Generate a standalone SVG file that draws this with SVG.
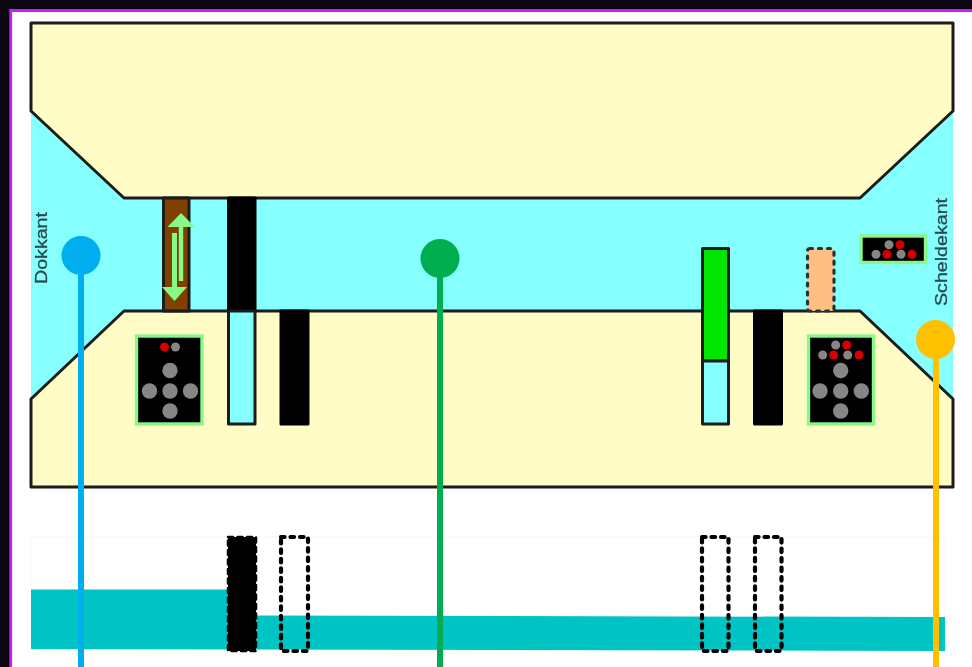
<svg xmlns="http://www.w3.org/2000/svg" width="972" height="667" viewBox="0 0 972 667">
<defs>
<filter id="soft" x="0" y="0" width="972" height="667" filterUnits="userSpaceOnUse"><feGaussianBlur stdDeviation="0.65"/></filter>
<style>
.land{fill:#fffcc5;stroke:#1a1a1a;stroke-width:3;stroke-linejoin:round}
.gate{stroke:#1a1a1a;stroke-width:3;stroke-linejoin:round}
.solid{fill:#000;stroke:#000;stroke-width:3;stroke-linejoin:round}
.dash{fill:none;stroke:#000;stroke-width:4.200;stroke-dasharray:3.600 5.900;stroke-linecap:round}
.sig{fill:#000;stroke:#86f986;stroke-width:3.400}
.g{fill:#868686}.r{fill:#d40000}
.lbl{font-family:"Liberation Sans",Arial,sans-serif;font-size:16.5px;fill:#2a4a50;stroke:#2a4a50;stroke-width:0.3}
.pipe{fill:none;stroke-width:6}
</style></defs>
<rect width="972" height="667" fill="#0b0612"/>
<rect x="10" y="10" width="962" height="657" fill="#fff"/>
<path d="M10.700 667V10.500H972" fill="none" stroke="#c41efa" stroke-width="2.800"/>
<g filter="url(#soft)">
<g id="water">
<rect x="31" y="105" width="922" height="300" fill="#86ffff"/>
</g>
<g id="land-top"><path class="land" d="M31 23H953V111L860 198H124L31 111Z"/></g>
<g id="land-bottom"><path class="land" d="M31 399L124 311H860L953 399V487H31Z"/></g>
<g id="label-dokkant"><text class="lbl" transform="translate(47 284) rotate(-90) scale(1.19 1)">Dokkant</text></g>
<g id="label-scheldekant"><text class="lbl" transform="translate(947 306) rotate(-90) scale(1.19 1)">Scheldekant</text></g>
<g id="bridge">
<rect class="gate" x="163.500" y="198" width="25.500" height="113" fill="#7f3f00"/>
<path d="M181 213L195 227H183.200V281H178.800V227H167.500Z" fill="#86f986"/>
<path d="M172 233H177V287H187L174.500 301L162 287H172Z" fill="#86f986"/>
</g>
<g id="lock-gate-1">
<rect class="solid" x="228.500" y="198" width="26.500" height="113"/>
<rect class="gate" x="228.500" y="311" width="26.500" height="113" fill="#86ffff"/>
</g>
<g id="lock-gate-2"><rect class="solid" x="281" y="311" width="27" height="113"/></g>
<g id="lock-gate-3">
<rect class="gate" x="702.500" y="248.500" width="26" height="112.500" fill="#00e600"/>
<rect class="gate" x="702.500" y="361" width="26" height="63" fill="#86ffff"/>
</g>
<g id="lock-gate-4"><rect class="solid" x="754.500" y="311" width="27" height="113"/></g>
<g id="gate-open"><rect x="807.500" y="248.500" width="26.500" height="62.500" rx="2" fill="#ffbe82" stroke="#263238" stroke-width="3.200" stroke-dasharray="3 6" stroke-linecap="round"/></g>
<g id="signal-left">
<rect class="sig" x="136.500" y="336" width="65.500" height="88"/>
<circle class="r" cx="164.500" cy="347" r="4.500"/><circle class="g" cx="175.500" cy="347" r="4.500"/>
<circle class="g" cx="170" cy="370.500" r="7.700"/><circle class="g" cx="149.500" cy="391" r="7.700"/><circle class="g" cx="170" cy="391" r="7.700"/><circle class="g" cx="190.500" cy="391" r="7.700"/><circle class="g" cx="170" cy="411" r="7.700"/>
</g>
<g id="signal-right">
<rect class="sig" x="808.500" y="336" width="65" height="88"/>
<circle class="g" cx="835.700" cy="345" r="4.500"/><circle class="r" cx="846.700" cy="345" r="4.500"/><circle class="g" cx="822.700" cy="355" r="4.500"/><circle class="r" cx="833.700" cy="355" r="4.500"/><circle class="g" cx="847.700" cy="355" r="4.500"/><circle class="r" cx="859" cy="355" r="4.500"/>
<circle class="g" cx="840.700" cy="370.500" r="7.700"/><circle class="g" cx="820" cy="391" r="7.700"/><circle class="g" cx="840.700" cy="391" r="7.700"/><circle class="g" cx="861.300" cy="391" r="7.700"/><circle class="g" cx="840.700" cy="411" r="7.700"/>
</g>
<g id="signal-small">
<rect class="sig" x="861" y="236" width="64.500" height="26.500"/>
<circle class="g" cx="889" cy="244.700" r="4.500"/><circle class="r" cx="900" cy="244.700" r="4.500"/><circle class="g" cx="876" cy="254.300" r="4.500"/><circle class="r" cx="887" cy="254.300" r="4.500"/><circle class="g" cx="901" cy="254.300" r="4.500"/><circle class="r" cx="912" cy="254.300" r="4.500"/>
</g>
<g id="profile">
<rect x="31" y="537" width="914" height="113" fill="#fff" stroke="#f5f5f5"/>
<path d="M31 589.500H228V615.500L945 617V651L31 649Z" fill="#00c4c4"/>
<rect x="228" y="537" width="28" height="114" fill="#000" stroke="#000" stroke-width="2.500" stroke-dasharray="5 4.500" stroke-linecap="round"/>
<rect class="dash" x="281" y="537" width="27" height="114"/>
<rect class="dash" x="702" y="537" width="26.500" height="114"/>
<rect class="dash" x="755" y="537" width="26.500" height="114"/>
</g>
</g>
<g id="connectors">
<path class="pipe" d="M81 256V667" stroke="#00adef"/>
<path class="pipe" d="M440 259V667" stroke="#00ae4f"/>
<path class="pipe" d="M936 340V667" stroke="#ffc000"/>
</g>
<g id="marker-blue"><circle cx="81" cy="255.500" r="19.500" fill="#00adef"/></g>
<g id="marker-green"><circle cx="440" cy="258.500" r="19.500" fill="#00ae4f"/></g>
<g id="marker-yellow"><circle cx="935.500" cy="339.500" r="19.500" fill="#ffc000"/></g>
</svg>
